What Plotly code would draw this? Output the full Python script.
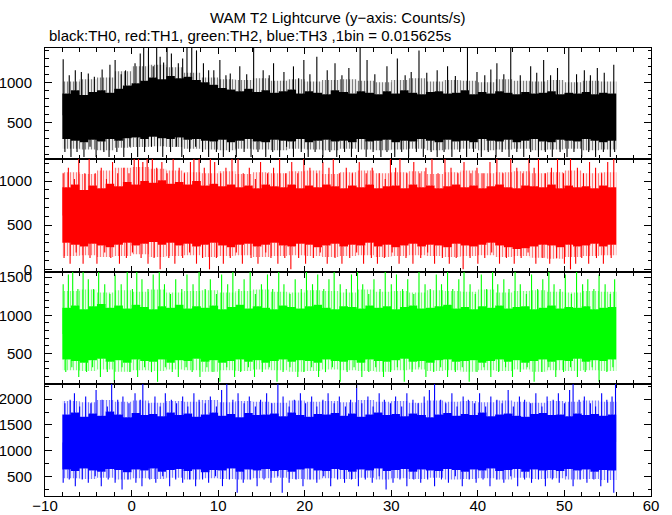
import numpy as np
import plotly.graph_objects as go
from plotly.subplots import make_subplots

# ---------------- data (counts/s) ----------------
t_start, t_stop = -8.0, 56.0   # time span of the lightcurve (s)

# dense core of each curve, 1-s resolution (upper / lower edge of the solid fill)
th0_top = [860, 900, 840, 880, 900, 870, 920, 960, 990, 1020, 1060, 1040, 1080, 1050, 1070, 1030,
           1000, 970, 930, 910, 890, 920, 880, 900, 870, 890, 910, 860, 890, 870, 850, 900,
           880, 860, 890, 870, 850, 890, 860, 900, 870, 850, 880, 890, 860, 870, 900, 850,
           880, 860, 890, 870, 850, 880, 860, 870, 890, 850, 870, 860, 880, 850, 870, 860]
th0_bot = [290, 270, 250, 280, 260, 290, 270, 300, 310, 290, 320, 300, 290, 310, 280, 290,
           270, 260, 280, 250, 270, 290, 260, 250, 280, 270, 260, 290, 250, 270, 280, 260,
           270, 250, 290, 260, 270, 280, 250, 270, 260, 290, 270, 250, 280, 260, 270, 250,
           290, 270, 260, 280, 250, 270, 290, 260, 250, 280, 270, 260, 290, 270, 250, 270]
th1_top = [930, 960, 900, 950, 920, 970, 940, 990, 960, 1000, 980, 1010, 970, 990, 960, 1000,
           950, 970, 940, 960, 930, 950, 920, 960, 940, 930, 960, 920, 950, 930, 960, 940,
           920, 950, 930, 960, 920, 940, 950, 920, 960, 930, 950, 920, 940, 960, 930, 950,
           920, 940, 960, 930, 920, 950, 940, 930, 960, 920, 950, 930, 940, 920, 950, 930]
th1_bot = [300, 280, 260, 290, 270, 250, 280, 300, 270, 290, 310, 280, 300, 270, 290, 260,
           280, 300, 270, 250, 280, 290, 260, 280, 300, 270, 260, 290, 280, 250, 270, 290,
           260, 280, 270, 300, 260, 280, 250, 270, 290, 260, 280, 270, 250, 290, 270, 260,
           280, 300, 270, 250, 230, 240, 260, 280, 270, 250, 280, 260, 270, 290, 260, 280]
th2_top = [1100, 1130, 1080, 1120, 1150, 1100, 1130, 1090, 1140, 1110, 1080, 1120, 1100, 1140, 1090, 1120,
           1100, 1130, 1080, 1110, 1140, 1090, 1120, 1100, 1080, 1130, 1110, 1090, 1120, 1140, 1100, 1080,
           1120, 1110, 1090, 1130, 1100, 1120, 1080, 1110, 1130, 1090, 1100, 1120, 1140, 1090, 1110, 1080,
           1120, 1100, 1130, 1090, 1110, 1120, 1080, 1100, 1130, 1090, 1110, 1100, 1120, 1080, 1100, 1110]
th2_bot = [420, 400, 380, 410, 430, 390, 410, 380, 420, 400, 390, 420, 380, 410, 400, 430,
           390, 410, 380, 400, 420, 390, 410, 380, 400, 420, 390, 410, 400, 380, 420, 400,
           390, 410, 380, 420, 400, 390, 410, 430, 390, 400, 380, 410, 420, 390, 400, 410,
           380, 400, 420, 390, 410, 380, 400, 420, 390, 410, 400, 430, 390, 410, 400, 420]
th3_top = [1700, 1740, 1660, 1720, 1680, 1760, 1700, 1650, 1730, 1690, 1710, 1670, 1740, 1690, 1720, 1660,
           1700, 1740, 1680, 1710, 1650, 1730, 1690, 1700, 1720, 1670, 1740, 1690, 1660, 1710, 1700, 1730,
           1680, 1720, 1660, 1700, 1740, 1690, 1710, 1670, 1720, 1690, 1650, 1700, 1730, 1680, 1710, 1690,
           1740, 1670, 1700, 1720, 1680, 1660, 1710, 1730, 1690, 1700, 1670, 1720, 1690, 1710, 1680, 1700]
th3_bot = [640, 610, 660, 620, 600, 650, 630, 590, 640, 620, 660, 600, 630, 650, 610, 640,
           590, 630, 620, 660, 600, 640, 620, 650, 610, 630, 600, 640, 660, 620, 610, 650,
           630, 600, 640, 620, 660, 610, 630, 650, 600, 640, 620, 610, 650, 630, 600, 640,
           620, 660, 610, 630, 650, 600, 640, 620, 630, 610, 650, 620, 640, 600, 630, 620]

# extent of the ragged fringe ("grass") around the core, 2-s resolution
th0_fringe_top = [1010, 1040, 1060, 1140, 1200, 1220, 1190, 1120, 1060, 1040, 1030, 1050, 1020, 1040, 1010, 1030,
                  1040, 1020, 1000, 1030, 1050, 1010, 1030, 1020, 1000, 1040, 1020, 1010, 1030, 1000, 1020, 1010]
th0_fringe_bot = [170, 160, 150, 180, 190, 200, 190, 170, 160, 150, 170, 160, 150, 170, 160, 150,
                  170, 160, 150, 160, 170, 150, 160, 170, 150, 160, 170, 150, 160, 170, 150, 160]
th1_fringe_top = [1100, 1080, 1120, 1150, 1160, 1140, 1120, 1100, 1090, 1110, 1080, 1100, 1090, 1110, 1120, 1080,
                  1100, 1120, 1090, 1100, 1110, 1080, 1100, 1120, 1090, 1100, 1110, 1090, 1100, 1120, 1090, 1100]
th1_fringe_bot = [150, 160, 140, 150, 170, 140, 150, 160, 140, 150, 160, 140, 150, 160, 150, 140,
                  150, 160, 140, 150, 160, 150, 140, 150, 160, 140, 150, 130, 120, 140, 150, 160]
th2_fringe_top = [1320, 1340, 1300, 1330, 1310, 1340, 1300, 1320, 1330, 1300, 1320, 1340, 1310, 1300, 1330, 1320,
                  1300, 1340, 1310, 1320, 1300, 1330, 1320, 1310, 1340, 1300, 1320, 1330, 1310, 1300, 1320, 1310]
th2_fringe_bot = [280, 270, 290, 260, 280, 270, 290, 280, 260, 280, 270, 290, 280, 260, 270, 290,
                  280, 270, 260, 280, 290, 270, 280, 260, 280, 270, 290, 260, 280, 270, 280, 270]
th3_fringe_top = [1960, 1940, 1980, 1950, 1970, 1930, 1960, 1950, 1980, 1940, 1960, 1950, 1930, 1970, 1950, 1960,
                  1940, 1980, 1950, 1960, 1930, 1970, 1950, 1960, 1940, 1970, 1950, 1930, 1960, 1950, 1970, 1950]
th3_fringe_bot = [470, 460, 480, 450, 470, 460, 480, 450, 470, 460, 450, 470, 480, 460, 450, 470,
                  460, 480, 450, 470, 460, 480, 450, 460, 470, 450, 480, 460, 470, 450, 460, 440]

# individual bins sticking far out of the curve: (time s, value counts/s)
th0_high = [(-7.9, 1290), (-7.2, 1090), (-6.5, 1150), (-5.8, 1130), (-5.0, 1110), (-4.3, 1070), (-3.4, 1160),
            (-2.5, 1220), (-1.9, 1280), (-1.2, 1100), (-0.7, 1150), (0.4, 1240), (1.0, 1360), (1.4, 1472),
            (1.95, 1400), (2.5, 1200), (2.9, 1472), (3.3, 1320), (3.7, 1250), (4.1, 1472), (4.6, 1360),
            (5.4, 1240), (5.9, 1300), (6.4, 1472), (6.95, 1472), (7.5, 1400), (8.3, 1240), (8.9, 1150),
            (9.5, 1150), (10.2, 1280), (10.9, 1090), (11.4, 1110), (12.5, 1200), (13.3, 1100), (14.1, 1472),
            (15.2, 1150), (15.9, 1090), (16.4, 1240), (17.6, 1130), (18.7, 1200), (19.3, 1050), (19.9, 1280),
            (20.6, 1100), (21.4, 1320), (22.6, 1150), (23.5, 1240), (24.3, 1090), (25.1, 1180), (26.4, 1472),
            (27.2, 1280), (28.1, 1100), (29.5, 1200), (30.7, 1300), (31.6, 1090), (32.3, 1130), (33.2, 1400),
            (34.1, 1120), (35.3, 1150), (36.5, 1200), (37.4, 1080), (38.8, 1472), (39.9, 1130), (40.8, 1090),
            (41.5, 1160), (42.2, 1240), (43.0, 1100), (43.8, 1472), (44.9, 1090), (46.1, 1200), (46.8, 1120),
            (47.6, 1280), (48.4, 1090), (49.2, 1180), (50.5, 1472), (51.4, 1100), (52.3, 1150), (53.0, 1090),
            (53.8, 1180), (54.6, 1120), (55.7, 1220)]
th0_low = [(-7.7, 128), (-7.0, 64), (-6.3, 128), (-5.5, 64), (-4.8, 192), (-4.1, 64), (-3.2, 128), (-2.6, 64),
           (-1.7, 128), (-0.9, 64), (-0.2, 192), (0.7, 64), (1.5, 128), (2.3, 192), (3.0, 128), (3.6, 64),
           (4.5, 128), (5.2, 192), (5.8, 64), (6.7, 128), (7.4, 192), (8.2, 128), (8.9, 64), (9.8, 128),
           (10.6, 64), (11.3, 128), (12.1, 64), (13.0, 128), (13.8, 64), (14.6, 128), (15.5, 64), (16.3, 128),
           (17.1, 64), (17.9, 192), (18.7, 64), (19.6, 128), (20.4, 64), (21.2, 128), (22.1, 64), (22.9, 128),
           (23.7, 64), (24.6, 128), (25.4, 64), (26.2, 128), (27.1, 64), (27.9, 128), (28.8, 64), (29.5, 128),
           (30.4, 64), (31.2, 128), (32.0, 64), (32.9, 128), (33.7, 64), (34.6, 128), (35.3, 64), (36.1, 128),
           (37.0, 64), (37.9, 128), (38.7, 64), (39.5, 128), (40.4, 64), (41.2, 128), (42.1, 64), (42.8, 128),
           (43.6, 64), (44.5, 128), (45.3, 64), (46.1, 128), (47.0, 64), (47.8, 128), (48.6, 64), (49.5, 128),
           (50.3, 64), (51.1, 128), (52.0, 64), (52.8, 128), (53.6, 64), (54.5, 128), (55.3, 64), (55.8, 128)]

th1_high = [(-7.9, 1088), (-7.3, 1152), (-6.6, 1024), (-6.1, 1280), (-5.4, 1088), (-4.9, 1280), (-4.2, 1088),
            (-3.5, 1152), (-2.9, 1024), (-2.2, 1216), (-1.6, 1088), (-0.9, 1152), (-0.3, 1088), (0.3, 1280),
            (0.8, 1280), (1.3, 1216), (1.8, 1280), (2.4, 1280), (2.9, 1152), (3.5, 1216), (4.1, 1088),
            (4.8, 1280), (5.5, 1152), (6.1, 1088), (6.8, 1216), (7.2, 1280), (7.8, 1280), (8.4, 1152),
            (9.1, 1280), (9.6, 1216), (10.3, 1088), (10.9, 1152), (11.6, 1280), (12.3, 1280), (12.9, 1088),
            (13.6, 1152), (14.3, 1024), (14.9, 1216), (15.7, 1088), (16.4, 1152), (17.1, 1280), (17.8, 1088),
            (18.5, 1216), (19.2, 1088), (19.9, 1280), (20.6, 1152), (21.4, 1088), (22.1, 1216), (22.8, 1152),
            (23.3, 1280), (24.0, 1088), (24.8, 1152), (25.5, 1088), (26.3, 1216), (27.1, 1088), (27.8, 1152),
            (28.6, 1088), (29.3, 1024), (29.9, 1280), (30.5, 1152), (31.0, 1280), (31.8, 1088), (32.6, 1216),
            (33.3, 1088), (34.0, 1152), (34.7, 1280), (35.4, 1088), (36.2, 1280), (36.9, 1152), (37.7, 1088),
            (38.4, 1216), (39.2, 1088), (39.9, 1152), (40.6, 1088), (41.4, 1216), (42.2, 1280), (42.9, 1088),
            (43.8, 1280), (44.5, 1152), (45.2, 1088), (45.9, 1280), (46.5, 1152), (47.0, 1280), (47.8, 1088),
            (48.5, 1152), (49.2, 1280), (49.9, 1088), (50.7, 1280), (51.5, 1152), (52.2, 1088), (52.9, 1216),
            (53.6, 1152), (54.3, 1088), (55.0, 1216), (55.7, 1280)]
th1_low = [(-7.8, 128), (-7.1, 64), (-6.4, 192), (-5.6, 64), (-4.8, 128), (-4.0, 64), (-3.1, 192), (-2.4, 128),
           (-1.4, 64), (-0.6, 128), (0.1, 192), (1.1, 128), (1.9, 64), (2.6, 128), (3.3, 0), (4.3, 128),
           (5.0, 64), (5.9, 128), (6.7, 192), (7.5, 64), (8.2, 128), (9.0, 0), (9.8, 128), (10.6, 64),
           (11.4, 128), (12.1, 192), (12.8, 64), (13.8, 128), (14.6, 64), (15.5, 192), (16.1, 128), (16.9, 64),
           (17.7, 128), (18.4, 0), (19.3, 128), (20.1, 64), (21.0, 128), (21.8, 192), (22.6, 64), (23.5, 128),
           (24.3, 64), (25.2, 128), (26.0, 192), (26.8, 64), (27.7, 128), (28.4, 64), (29.2, 128), (30.1, 192),
           (30.9, 64), (31.7, 128), (32.5, 64), (33.4, 128), (34.2, 192), (35.0, 64), (35.9, 128), (36.7, 64),
           (37.5, 128), (38.3, 0), (39.1, 128), (40.0, 64), (40.8, 128), (41.6, 192), (42.5, 64), (43.3, 128),
           (44.2, 64), (45.0, 128), (45.8, 192), (46.7, 64), (47.5, 128), (48.3, 64), (49.1, 128), (50.0, 64),
           (50.7, 0), (51.3, 64), (52.0, 128), (52.8, 64), (53.7, 128), (54.5, 64), (55.4, 128)]

th2_high = [(-7.9, 1408), (-7.3, 1536), (-6.8, 1600), (-6.2, 1344), (-5.6, 1600), (-5.0, 1472), (-4.4, 1344),
            (-3.8, 1600), (-3.1, 1408), (-2.5, 1280), (-1.9, 1536), (-1.2, 1408), (-0.5, 1600), (0.1, 1344),
            (0.6, 1600), (1.2, 1472), (1.9, 1344), (2.5, 1536), (3.2, 1600), (3.8, 1408), (4.5, 1280),
            (5.1, 1472), (5.8, 1344), (6.4, 1536), (7.1, 1408), (7.8, 1600), (8.5, 1344), (9.1, 1472),
            (9.8, 1280), (10.4, 1536), (11.1, 1408), (11.7, 1600), (12.4, 1344), (13.0, 1472), (13.7, 1600),
            (14.3, 1280), (15.0, 1408), (15.7, 1536), (16.3, 1344), (17.0, 1600), (17.6, 1408), (18.3, 1280),
            (18.9, 1472), (19.6, 1344), (20.2, 1600), (20.9, 1408), (21.5, 1536), (22.2, 1344), (22.8, 1472),
            (23.4, 1600), (24.1, 1408), (24.8, 1344), (25.4, 1536), (26.1, 1600), (26.7, 1408), (27.4, 1280),
            (28.0, 1472), (28.7, 1344), (29.3, 1600), (30.0, 1408), (30.6, 1536), (31.3, 1344), (31.9, 1472),
            (32.6, 1280), (33.2, 1600), (33.9, 1408), (34.5, 1344), (35.2, 1536), (35.8, 1408), (36.5, 1600),
            (37.1, 1344), (37.8, 1472), (38.4, 1600), (39.1, 1408), (39.7, 1280), (40.4, 1536), (41.0, 1344),
            (41.7, 1600), (42.3, 1408), (43.0, 1472), (43.6, 1344), (44.3, 1600), (44.9, 1408), (45.6, 1280),
            (46.2, 1536), (46.9, 1344), (47.5, 1472), (48.2, 1600), (48.8, 1408), (49.5, 1344), (50.1, 1536),
            (50.8, 1280), (51.4, 1600), (52.1, 1408), (52.7, 1472), (53.4, 1344), (54.0, 1536), (54.7, 1408),
            (55.3, 1280), (55.8, 1472)]
th2_low = [(-7.6, 256), (-6.9, 320), (-6.1, 192), (-5.2, 256), (-4.5, 320), (-3.6, 192), (-2.8, 256), (-2.0, 128),
           (-1.1, 320), (-0.2, 256), (0.7, 192), (1.5, 320), (2.3, 256), (3.0, 128), (3.9, 320), (4.7, 256),
           (5.4, 192), (6.3, 320), (7.0, 256), (7.9, 192), (8.7, 320), (9.4, 256), (10.2, 128), (11.0, 320),
           (11.9, 192), (12.6, 256), (13.5, 320), (14.2, 192), (15.1, 256), (15.9, 320), (16.8, 128), (17.5, 256),
           (18.3, 320), (19.2, 192), (19.9, 256), (20.8, 320), (21.6, 192), (22.4, 256), (23.2, 320), (24.1, 128),
           (24.9, 256), (25.7, 320), (26.6, 192), (27.4, 256), (28.2, 320), (29.1, 192), (29.9, 256), (30.7, 320),
           (31.5, 128), (32.4, 256), (33.2, 320), (34.0, 192), (34.9, 256), (35.7, 320), (36.5, 192), (37.4, 256),
           (38.2, 320), (39.0, 128), (39.9, 256), (40.7, 320), (41.5, 192), (42.4, 256), (43.2, 320), (44.0, 192),
           (44.9, 256), (45.7, 320), (46.5, 128), (47.4, 256), (48.2, 320), (49.0, 192), (49.9, 256), (50.7, 320),
           (51.5, 192), (52.4, 256), (53.2, 320), (54.0, 128), (54.9, 256), (55.6, 320)]

th3_high = [(-7.7, 1920), (-7.1, 1984), (-6.6, 2112), (-6.0, 1856), (-5.3, 2048), (-4.7, 1920), (-4.1, 2176),
            (-3.4, 1984), (-2.8, 1856), (-2.3, 2304), (-1.6, 1984), (-1.0, 2048), (-0.3, 1920), (0.4, 2112),
            (1.0, 1984), (1.3, 2304), (2.0, 1920), (2.7, 2048), (3.3, 1856), (3.9, 2112), (4.6, 1984),
            (5.2, 1920), (5.9, 2048), (6.5, 1856), (7.2, 2112), (7.8, 1984), (8.5, 1920), (9.1, 2048),
            (9.8, 1856), (10.4, 2176), (11.0, 2304), (11.7, 1984), (12.3, 2112), (13.0, 1920), (13.6, 2048),
            (14.3, 1856), (14.9, 1984), (15.6, 2112), (16.2, 1920), (16.9, 2304), (17.5, 2048), (18.2, 1856),
            (18.8, 1984), (19.5, 2112), (20.1, 1920), (20.8, 2048), (21.4, 1856), (22.1, 1984), (22.7, 2112),
            (23.4, 1920), (24.0, 2048), (24.7, 1856), (25.3, 1984), (26.0, 2304), (26.6, 1920), (27.3, 2048),
            (27.9, 1856), (28.6, 2112), (29.2, 1984), (29.9, 1920), (30.5, 2048), (31.2, 1856), (31.8, 2112),
            (32.5, 1984), (33.1, 1920), (33.8, 2048), (34.4, 2176), (35.0, 2304), (35.7, 1984), (36.3, 1920),
            (37.0, 2112), (37.6, 1856), (38.3, 2048), (38.9, 1984), (39.6, 1920), (40.2, 2112), (40.9, 1856),
            (41.5, 2048), (42.2, 1984), (42.8, 1920), (43.5, 2176), (44.1, 1856), (44.8, 2048), (45.4, 1984),
            (46.1, 1920), (46.7, 2112), (47.4, 1856), (48.0, 2048), (48.7, 1984), (49.3, 2112), (50.0, 1920),
            (50.6, 2176), (51.0, 2304), (51.7, 1984), (52.3, 2048), (53.0, 1920), (53.6, 1856), (54.3, 2112),
            (54.9, 1984), (55.5, 2048), (55.9, 2304)]
th3_low = [(-7.9, 384), (-7.2, 448), (-6.5, 320), (-5.7, 448), (-5.0, 384), (-4.2, 512), (-3.5, 320), (-2.7, 448),
           (-1.9, 384), (-1.1, 256), (-0.4, 448), (0.5, 384), (1.2, 320), (2.1, 448), (2.8, 384), (3.6, 512),
           (4.4, 320), (5.1, 448), (5.9, 384), (6.7, 448), (7.4, 320), (8.2, 448), (8.9, 384), (9.7, 512),
           (10.5, 320), (11.3, 448), (12.2, 192), (12.9, 384), (13.7, 448), (14.5, 320), (15.3, 448), (16.1, 384),
           (16.9, 512), (17.4, 192), (18.2, 384), (19.0, 448), (19.8, 320), (20.6, 448), (21.4, 384), (22.2, 512),
           (23.0, 320), (23.8, 448), (24.6, 384), (25.4, 448), (26.2, 320), (27.0, 448), (27.8, 384), (28.6, 512),
           (29.4, 256), (30.2, 384), (31.0, 448), (31.8, 320), (32.6, 448), (33.4, 384), (34.2, 448), (35.0, 320),
           (35.8, 448), (36.6, 384), (37.4, 512), (38.2, 320), (39.0, 448), (39.8, 384), (40.6, 448), (41.4, 320),
           (42.2, 448), (43.0, 384), (43.8, 512), (44.6, 320), (45.4, 448), (46.2, 384), (47.0, 448), (47.8, 320),
           (48.6, 448), (49.4, 384), (50.2, 512), (51.0, 320), (51.8, 448), (52.6, 384), (53.4, 448), (54.2, 320),
           (55.0, 384), (55.7, 192)]

x_ticks = [-10, 0, 10, 20, 30, 40, 50, 60]
y_ranges = [[40, 1430], [-30, 1250], [100, 1568], [130, 2290]]
y_minor = [100, 100, 100, 250]
colors = ["#000000", "#ff0000", "#00ff00", "#0000ff"]
title = "WAM T2 Lightcurve (y\u2212axis: Counts/s)"
subtitle = "black:TH0, red:TH1, green:TH2, blue:TH3 ,1bin = 0.015625s"

panels = [
    (th0_top, th0_bot, th0_fringe_top, th0_fringe_bot, th0_high, th0_low),
    (th1_top, th1_bot, th1_fringe_top, th1_fringe_bot, th1_high, th1_low),
    (th2_top, th2_bot, th2_fringe_top, th2_fringe_bot, th2_high, th2_low),
    (th3_top, th3_bot, th3_fringe_top, th3_fringe_bot, th3_high, th3_low),
]

# ---------------- figure ----------------
FONT = "Liberation Sans, Arial, Helvetica, sans-serif"
fig = make_subplots(rows=4, cols=1, shared_xaxes=True, vertical_spacing=0)


def step(vals):
    edges = np.linspace(t_start, t_stop, len(vals) + 1)
    return edges, list(vals) + [vals[-1]]


def line_trace(vals, c, fill=None, pattern=None):
    x, y = step(vals)
    kw = dict(x=x, y=y, mode="lines", line=dict(width=0, shape="hv", color=c),
              showlegend=False, hoverinfo="skip")
    if fill:
        kw["fill"] = "tonexty"
        if pattern:
            kw["fillcolor"] = "rgba(0,0,0,0)"
            kw["fillpattern"] = dict(shape="|", fgcolor=c, bgcolor="rgba(0,0,0,0)",
                                     size=3, solidity=0.45, fillmode="overlay")
        else:
            kw["fillcolor"] = c
    return go.Scatter(**kw)


for i, (top, bot, ftop, fbot, high, low) in enumerate(panels, start=1):
    c = colors[i - 1]
    fig.add_trace(line_trace(fbot, c), row=i, col=1)
    fig.add_trace(line_trace(bot, c, fill=True, pattern=True), row=i, col=1)
    fig.add_trace(line_trace(top, c, fill=True), row=i, col=1)
    fig.add_trace(line_trace(ftop, c, fill=True, pattern=True), row=i, col=1)
    mid = (np.mean(top) + np.mean(bot)) / 2
    xs, ys = [], []
    for t, v in list(high) + list(low):
        xs += [t, t, None]
        ys += [mid, v, None]
    fig.add_trace(go.Scatter(x=xs, y=ys, mode="lines", line=dict(width=1.1, color=c),
                             showlegend=False, hoverinfo="skip"), row=i, col=1)

domains = [[0.7522, 1.0], [0.5, 0.7522], [0.25, 0.5], [0.0, 0.25]]
for i in range(1, 5):
    fig.update_yaxes(row=i, col=1, range=y_ranges[i - 1], domain=domains[i - 1],
                     dtick=500, tick0=0, ticks="inside", ticklen=7, tickwidth=1,
                     tickcolor="black", mirror="allticks", showline=True,
                     linecolor="black", linewidth=1, showgrid=False, zeroline=False,
                     ticklabelstandoff=9, automargin=False,
                     minor=dict(dtick=y_minor[i - 1], tick0=0, ticks="inside",
                                ticklen=3.5, tickcolor="black", showgrid=False),
                     tickfont=dict(family=FONT, size=15, color="black"))
    fig.update_xaxes(row=i, col=1, range=[-10, 60], tickvals=x_ticks,
                     ticks="inside", ticklen=6, tickwidth=1, tickcolor="black",
                     mirror="allticks", showline=True, linecolor="black", linewidth=1,
                     showgrid=False, zeroline=False, automargin=False,
                     ticklabelstandoff=-4,
                     minor=dict(dtick=2, tick0=0, ticks="inside", ticklen=4,
                                tickcolor="black", showgrid=False),
                     tickfont=dict(family=FONT, size=15, color="black"))

fig.add_annotation(text=title, xref="paper", yref="paper", x=0.4835, y=1.069,
                   xanchor="center", yanchor="middle", showarrow=False,
                   font=dict(family=FONT, size=15, color="black"))
fig.add_annotation(text=subtitle, xref="paper", yref="paper", x=0.003, y=1.027,
                   xanchor="left", yanchor="middle", showarrow=False,
                   font=dict(family=FONT, size=15, color="black"))

fig.update_layout(width=672, height=515, margin=dict(l=45, r=21, t=48, b=19),
                  paper_bgcolor="white", plot_bgcolor="white", showlegend=False)

# drop the browser's default 8 px page margin so the figure fills the window exactly
fig.write_html("out.html", config={"displayModeBar": False, "staticPlot": True},
               post_script="document.body.style.margin='0';"
                           "document.documentElement.style.overflow='hidden';")
